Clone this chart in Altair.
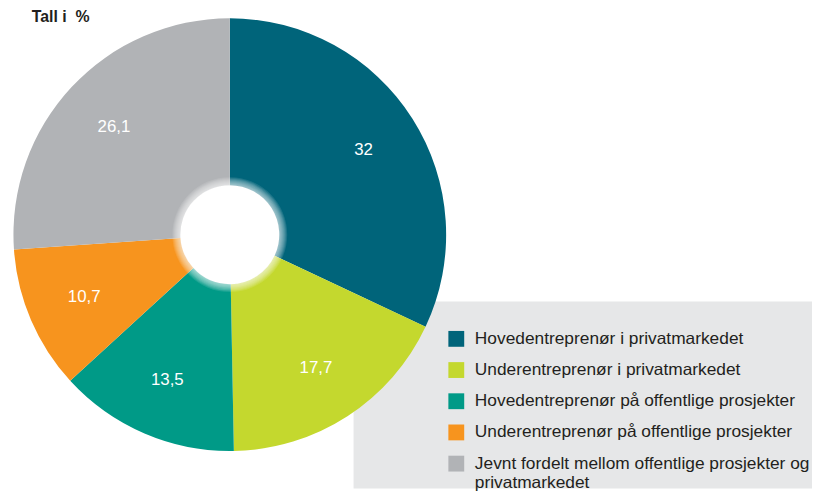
import altair as alt
import pandas as pd

categories = [
    "Hovedentreprenør i privatmarkedet",
    "Underentreprenør i privatmarkedet",
    "Hovedentreprenør på offentlige prosjekter",
    "Underentreprenør på offentlige prosjekter",
    "Jevnt fordelt mellom offentlige prosjekter og privatmarkedet",
]
values = [32, 17.7, 13.5, 10.7, 26.1]
labels = ["32", "17,7", "13,5", "10,7", "26,1"]
colors = ["#00647a", "#c4d82e", "#009a87", "#f7941e", "#b1b3b6"]

df = pd.DataFrame({"kategori": categories, "verdi": values, "etikett": labels,
                   "rekkefolge": list(range(len(categories)))})

W, H = 812, 483
CX, CY = 224, 226.5

base = alt.Chart(df)
one = pd.DataFrame({"a": [0]})

box = alt.Chart(one).mark_rect(color="#e6e7e8").encode(
    x=alt.value(349), x2=alt.value(W), y=alt.value(294), y2=alt.value(H)
)

arcs = base.mark_arc(stroke=None).encode(
    theta=alt.Theta("verdi:Q", stack=True),
    order=alt.Order("rekkefolge:Q"),
    color=alt.Color(
        "kategori:N",
        scale=alt.Scale(domain=categories, range=colors),
        legend=alt.Legend(
            title=None,
            orient="none",
            legendX=444,
            legendY=323,
            symbolType="square",
            symbolSize=256,
            symbolStrokeWidth=0,
            labelFont="Liberation Sans",
            labelFontSize=17.5,
            labelColor="#231f20",
            labelOffset=10,
            labelLimit=450,
            rowPadding=12.5,
            padding=0,
            labelExpr="datum.label == 'Jevnt fordelt mellom offentlige prosjekter og privatmarkedet' ? ['Jevnt fordelt mellom offentlige prosjekter og', 'privatmarkedet'] : datum.label",
        ),
    ),
    x=alt.value(CX),
    y=alt.value(CY),
    radius=alt.value(218.5),
    radius2=alt.value(50),
)

glow = [
    alt.Chart(one).mark_arc(color="white", opacity=0.11, stroke=None).encode(
        x=alt.value(CX), y=alt.value(CY),
        radius=alt.value(r), radius2=alt.value(49),
    )
    for r in [51, 52, 53, 54, 55, 56, 57, 58]
]

texts = base.mark_text(
    color="white", font="Liberation Sans", fontSize=17, radius=160
).encode(
    theta=alt.Theta("verdi:Q", stack=True),
    order=alt.Order("rekkefolge:Q"),
    text="etikett:N",
    x=alt.value(CX),
    y=alt.value(CY),
)

title = alt.Chart(pd.DataFrame({"t": ["Tall i\u00a0 %"]})).mark_text(
    font="Liberation Sans", fontSize=16, fontWeight="bold", color="#231f20",
    align="left", baseline="alphabetic"
).encode(text="t:N", x=alt.value(24), y=alt.value(11.5))

chart = alt.layer(box, arcs, *glow, texts, title).properties(
    width=W, height=H, padding=0, autosize=alt.AutoSizeParams(type="none")
).configure_view(stroke=None)

chart.save("out.html", embed_options={"renderer": "svg", "actions": False})
